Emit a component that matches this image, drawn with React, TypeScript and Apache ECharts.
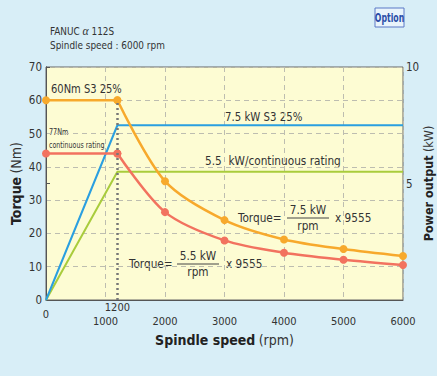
import React, { useEffect, useRef } from "react";
import * as echarts from "echarts";

const FONT = "'Liberation Sans Narrow', 'DejaVu Sans Condensed', 'Arial Narrow', sans-serif";

// Data
const speedTicks = [1000, 2000, 3000, 4000, 5000, 6000];
const zeroTick = [0];
const kneeTick = [1200];
const torqueRpm = [0, 1200, 2000, 3000, 4000, 5000, 6000];
const s3Torque = [60, 60, 35.7, 24, 18.2, 15.3, 13.2];
const contTorque = [44, 44, 26.4, 17.9, 14.2, 12.1, 10.5];
const powerRpm = [0, 1200, 6000];
const s3Power = [0, 7.5, 7.5];
const contPower = [0, 5.5, 5.5];

const ORANGE = "#f7a92c";
const RED = "#f2725f";
const BLUE = "#2a9fe0";
const GREEN = "#a9cc3c";
const TXT = "#333";

const pairs = (xs: number[], ys: number[]) => xs.map((x, i) => [x, ys[i]]);

const txt = (x: number, y: number, text: string, fontSize: number, sx: number, align = "left") => ({
  type: "text",
  x,
  y,
  scaleX: sx,
  style: { text, fontSize, fill: TXT, fontFamily: FONT, align, verticalAlign: "middle" },
});

export default function App() {
  const ref = useRef<HTMLDivElement>(null);
  useEffect(() => {
    if (!ref.current) return;
    const chart = echarts.init(ref.current, null, { renderer: "svg" });
    const s3 = pairs(torqueRpm, s3Torque);
    const cont = pairs(torqueRpm, contTorque);
    const hiddenAxis = (vals: number[], margin: number) => ({
      type: "value",
      min: 0,
      max: 6000,
      position: "bottom",
      axisLine: { show: false },
      axisTick: { show: false },
      splitLine: { show: false },
      axisLabel: {
        customValues: vals,
        margin,
        fontSize: 11,
        color: TXT,
        fontFamily: FONT,
        formatter: (v: number) => String(v),
      },
    });
    const option: any = {
      animation: false,
      backgroundColor: "#d8eef7",
      grid: {
        left: 46,
        right: 34,
        top: 67,
        bottom: 76,
        outerBoundsMode: "none",
        containLabel: false,
        show: true,
        backgroundColor: "#fdfcd3",
        borderColor: "#666",
        borderWidth: 1,
      },
      xAxis: [
        {
          type: "value",
          min: 0,
          max: 6000,
          interval: 1000,
          position: "bottom",
          axisLine: { show: true, lineStyle: { color: "#555", width: 1 } },
          axisTick: { show: false },
          splitLine: { show: true, lineStyle: { color: "#bdbdb0", type: [5, 4], width: 1 } },
          axisLabel: {
            customValues: speedTicks,
            margin: 16,
            fontSize: 11,
            color: TXT,
            fontFamily: FONT,
            formatter: (v: number) => String(v),
          },
          name: "{b|Spindle speed} {n|(rpm)}",
          nameLocation: "middle",
          nameGap: 33,
          nameMoveOverlap: false,
          nameTextStyle: {
            rich: {
              b: { fontSize: 14, fontWeight: "bold", color: "#222", fontFamily: FONT },
              n: { fontSize: 14, color: "#333", fontFamily: FONT },
            },
          },
        },
        hiddenAxis(zeroTick, 9),
        hiddenAxis(kneeTick, 2),
      ],
      yAxis: [
        {
          type: "value",
          min: 0,
          max: 70,
          interval: 10,
          position: "left",
          axisLine: { show: true, lineStyle: { color: "#555", width: 1 } },
          axisTick: { show: false },
          splitLine: { show: true, lineStyle: { color: "#bdbdb0", type: [5, 4], width: 1 } },
          axisLabel: { margin: 4, fontSize: 11.5, color: TXT, fontFamily: FONT },
          name: "{b|Torque} {n|(Nm)}",
          nameLocation: "middle",
          nameGap: 23,
          nameMoveOverlap: false,
          nameTextStyle: {
            rich: {
              b: { fontSize: 14, fontWeight: "bold", color: "#222", fontFamily: FONT },
              n: { fontSize: 14, color: "#333", fontFamily: FONT },
            },
          },
        },
        {
          type: "value",
          min: 0,
          max: 10,
          interval: 5,
          position: "right",
          axisLine: { show: true, lineStyle: { color: "#555", width: 1 } },
          axisTick: { show: true, length: 4, lineStyle: { color: "#555" } },
          splitLine: { show: false },
          axisLabel: {
            margin: 3,
            fontSize: 11.5,
            color: TXT,
            fontFamily: FONT,
            formatter: (v: number) => (v === 0 ? "" : String(v)),
          },
          name: "{b|Power output} {n|(kW)}",
          nameLocation: "middle",
          nameGap: 19,
          nameMoveOverlap: false,
          nameTextStyle: {
            rich: {
              b: { fontSize: 12.5, fontWeight: "bold", color: "#222", fontFamily: FONT },
              n: { fontSize: 12.5, color: "#333", fontFamily: FONT },
            },
          },
        },
      ],
      series: [
        {
          name: "5.5 kW continuous",
          type: "line",
          yAxisIndex: 1,
          data: pairs(powerRpm, contPower),
          symbol: "none",
          lineStyle: { color: GREEN, width: 2 },
        },
        {
          name: "7.5 kW S3",
          type: "line",
          yAxisIndex: 1,
          data: pairs(powerRpm, s3Power),
          symbol: "none",
          lineStyle: { color: BLUE, width: 2 },
        },
        {
          name: "cont flat",
          type: "line",
          data: cont.slice(0, 2),
          symbol: "circle",
          symbolSize: 8,
          itemStyle: { color: RED },
          lineStyle: { color: RED, width: 2.5 },
        },
        {
          name: "cont curve",
          type: "line",
          data: cont.slice(1),
          smooth: 0.3,
          symbol: "circle",
          symbolSize: 8,
          itemStyle: { color: RED },
          lineStyle: { color: RED, width: 2.5 },
        },
        {
          name: "s3 flat",
          type: "line",
          data: s3.slice(0, 2),
          symbol: "circle",
          symbolSize: 8,
          itemStyle: { color: ORANGE },
          lineStyle: { color: ORANGE, width: 2.5 },
          markLine: {
            silent: true,
            symbol: "none",
            label: { show: false },
            lineStyle: { color: "#777", type: [2, 3], width: 2.5 },
            data: [[{ coord: [kneeTick[0], 0] }, { coord: [kneeTick[0], s3Torque[1]] }]],
          },
          z: 1,
        },
        {
          name: "s3 curve",
          type: "line",
          data: s3.slice(1),
          smooth: 0.3,
          symbol: "circle",
          symbolSize: 8,
          itemStyle: { color: ORANGE },
          lineStyle: { color: ORANGE, width: 2.5 },
        },
      ],
      graphic: [
        {
          type: "text",
          x: 50,
          y: 31,
          scaleX: 0.9,
          style: {
            text: "FANUC {i|α} 112S",
            fontSize: 11,
            fill: TXT,
            fontFamily: FONT,
            verticalAlign: "middle",
            rich: { i: { fontSize: 13, fontStyle: "italic", fill: TXT, fontFamily: "serif" } },
          },
        },
        txt(50, 45, "Spindle speed : 6000 rpm", 11, 0.9),
        {
          type: "rect",
          shape: { x: 375, y: 8, width: 29, height: 19 },
          style: { fill: "#e9f4fb", stroke: "#5a78c6", lineWidth: 1 },
        },
        {
          type: "text",
          x: 389.5,
          y: 17.5,
          scaleX: 0.72,
          style: {
            text: "Option",
            fontSize: 12,
            fontWeight: "bold",
            fill: "#2b4ea8",
            fontFamily: FONT,
            align: "center",
            verticalAlign: "middle",
          },
        },
        txt(51, 89, "60Nm S3 25%", 13, 0.85),
        txt(225, 117, "7.5 kW S3 25%", 13, 0.87),
        txt(205, 161, "5.5  kW/continuous rating", 13, 0.9),
        txt(49, 132, "77Nm", 9, 0.8),
        txt(49, 145, "continuous rating", 9, 0.78),
        // Formula 7.5 kW
        txt(238, 218, "Torque=", 13, 0.9),
        txt(308, 210, "7.5 kW", 13, 0.9, "center"),
        {
          type: "line",
          shape: { x1: 287, y1: 218, x2: 329, y2: 218 },
          style: { stroke: "#444", lineWidth: 1 },
        },
        txt(308, 226, "rpm", 13, 0.9, "center"),
        txt(335, 218, "x 9555", 13, 0.9),
        // Formula 5.5 kW
        txt(129, 264, "Torque=", 13, 0.9),
        txt(198, 256, "5.5 kW", 13, 0.9, "center"),
        {
          type: "line",
          shape: { x1: 177, y1: 264, x2: 219, y2: 264 },
          style: { stroke: "#444", lineWidth: 1 },
        },
        txt(198, 272, "rpm", 13, 0.9, "center"),
        txt(226, 264, "x 9555", 13, 0.9),
      ],
    };
    chart.setOption(option);
    return () => chart.dispose();
  }, []);
  return (
    <div
      ref={ref}
      style={{ position: "fixed", left: 0, top: 0, width: 437, height: 376 }}
    />
  );
}
